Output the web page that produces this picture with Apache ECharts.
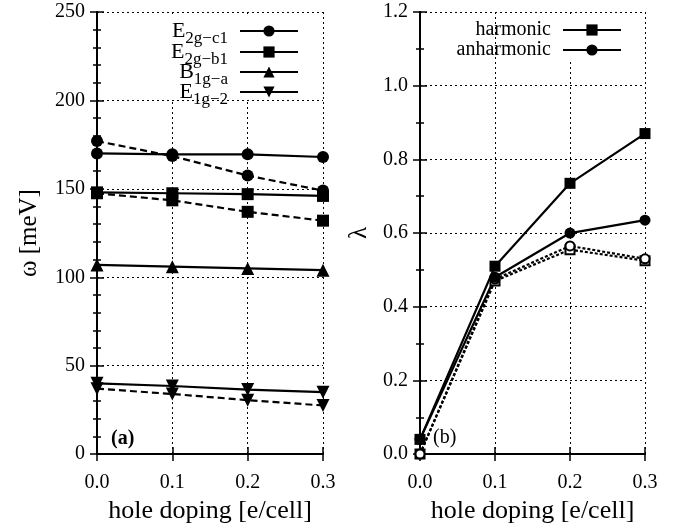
<!DOCTYPE html>
<html>
<head>
<meta charset="utf-8">
<script src="https://cdn.jsdelivr.net/npm/echarts@6/dist/echarts.min.js"></script>
<style>
  html, body { margin: 0; padding: 0; background: #fff; }
  #chart { width: 685px; height: 529px; }
</style>
</head>
<body>
<div id="chart"></div>
<script>
// hole doping values (x)
const dopings = [0.0, 0.1, 0.2, 0.3]
const xTicks = ['0.0', '0.1', '0.2', '0.3']

// panel (a): phonon frequencies, solid = harmonic, dashed = anharmonic
const e2gC1Solid = [170, 169.5, 169.5, 168]
const e2gC1Dashed = [177, 168.5, 157.5, 149]
const e2gB1Solid = [148, 147.5, 147, 146]
const e2gB1Dashed = [147.5, 143.5, 137, 132]
const b1gSolid = [107, 106, 105, 104]
const e1gSolid = [40, 38.5, 36.5, 35]
const e1gDashed = [37, 34, 30.5, 27.5]

// panel (b): coupling constant lambda
const lamHarm = [0.04, 0.51, 0.735, 0.87]
const lamAnh = [0.04, 0.48, 0.60, 0.635]
const lamHarmDashed = [0.0, 0.47, 0.555, 0.525]
const lamAnhDashed = [0.0, 0.475, 0.565, 0.53]

const FONT = '"Liberation Serif", "DejaVu Serif", serif'
const pairs = (ys) => dopings.map((x, i) => [x, ys[i]])

const chart = echarts.init(document.getElementById('chart'))

const gridLine = { show: true, lineStyle: { color: '#000', type: [2, 3], width: 1 } }
const labelStyle = { color: '#000', fontFamily: FONT, fontSize: 20 }

// x axes: bottom with labels, top mirror with ticks only
const xAxisPair = (gridIndex) => [
  {
    type: 'value', gridIndex, position: 'bottom', min: 0, max: 0.3, interval: 0.1,
    axisLine: { lineStyle: { color: '#000', width: 2 } },
    axisTick: { inside: true, length: 7, lineStyle: { width: 1.5 } },
    axisLabel: { ...labelStyle, margin: 19, formatter: (v) => xTicks[Math.round(v * 10)] },
    splitLine: gridLine,
    name: 'hole doping [e/cell]', nameLocation: 'middle', nameGap: 39,
    nameTextStyle: { color: '#000', fontFamily: FONT, fontSize: 26 }
  },
  {
    type: 'value', gridIndex, position: 'top', min: 0, max: 0.3, interval: 0.1,
    axisLine: { lineStyle: { color: '#000', width: 2 } },
    axisTick: { inside: true, length: 7, lineStyle: { width: 1.5 } },
    axisLabel: { show: false },
    splitLine: { show: false }
  }
]

const yAxisPair = (gridIndex, max, interval, minorSplit, name, nameGap, fmt) => [
  {
    type: 'value', gridIndex, position: 'left', min: 0, max, interval,
    axisLine: { show: true, lineStyle: { color: '#000', width: 2 } },
    axisTick: { show: true, inside: true, length: 7, lineStyle: { width: 1.5 } },
    minorTick: { show: true, splitNumber: minorSplit, length: 4, lineStyle: { color: '#000', width: 1.5 } },
    axisLabel: { ...labelStyle, margin: 12, formatter: fmt },
    splitLine: gridLine,
    name, nameLocation: 'middle', nameGap, nameRotate: 90,
    nameTextStyle: { color: '#000', fontFamily: FONT, fontSize: 25 }
  },
  {
    type: 'value', gridIndex, position: 'right', min: 0, max, interval,
    axisLine: { show: true, lineStyle: { color: '#000', width: 2 } },
    axisTick: { show: true, inside: true, length: 7, lineStyle: { width: 1.5 } },
    minorTick: { show: true, splitNumber: minorSplit, length: 4, lineStyle: { color: '#000', width: 1.5 } },
    axisLabel: { show: false },
    splitLine: { show: false }
  }
]

const lineSeries = (name, ys, xi, yi, symbol, size, dashed, extra) => ({
  name, type: 'line', xAxisIndex: xi, yAxisIndex: yi,
  data: pairs(ys),
  symbol, symbolSize: size,
  clip: false,
  lineStyle: { color: '#000', width: 2.2, type: dashed ? dashed : 'solid' },
  itemStyle: { color: '#000', borderColor: '#000', borderWidth: symbol.startsWith('empty') ? 2 : 0 },
  emphasis: { disabled: true },
  z: 3,
  ...extra
})

// rich text for legend names with subscripts
const richSub = {
  m: { fontFamily: FONT, fontSize: 22, color: '#000', lineHeight: 22, verticalAlign: 'top' },
  s: { fontFamily: FONT, fontSize: 17, color: '#000', lineHeight: 17, verticalAlign: 'top', padding: [10, 7, 0, 0] }
}
const subName = {
  'E2g-c1': '{m|E}{s|2g−c1}',
  'E2g-b1': '{m|E}{s|2g−b1}',
  'B1g-a': '{m|B}{s|1g−a}',
  'E1g-2': '{m|E}{s|1g−2}'
}
const leftLegend = (name, top) => ({
  data: [name], orient: 'vertical', right: 386, top, align: 'right',
  itemWidth: 58, itemHeight: 14, padding: 0, selectedMode: false,
  formatter: (n) => subName[n],
  textStyle: { rich: richSub }
})
const rightLegend = (name, top) => ({
  data: [name], orient: 'vertical', right: 63, top, align: 'right',
  itemWidth: 58, itemHeight: 14, padding: 0, selectedMode: false,
  textStyle: { color: '#000', fontFamily: FONT, fontSize: 20, padding: [0, 7, 0, 0] }
})

const option = {
  backgroundColor: '#fff',
  animation: false,
  grid: [
    { left: 97, right: 362, top: 12, bottom: 70 },
    { left: 420, right: 40, top: 12, bottom: 71 }
  ],
  xAxis: [...xAxisPair(0), ...xAxisPair(1)],
  yAxis: [
    ...yAxisPair(0, 250, 50, 5, 'ω [meV]', 55, (v) => String(v)),
    ...yAxisPair(1, 1.2, 0.2, 2, 'λ', 48, (v) => v.toFixed(1))
  ],
  legend: [
    leftLegend('E2g-c1', 20),
    leftLegend('E2g-b1', 41),
    leftLegend('B1g-a', 61),
    leftLegend('E1g-2', 81),
    rightLegend('harmonic', 20),
    rightLegend('anharmonic', 40)
  ],
  graphic: [
    // key boxes hide the grid lines behind the legends
    { type: 'rect', shape: { x: 118, y: 14, width: 190, height: 86 }, style: { fill: '#fff' }, z: 1 },
    { type: 'rect', shape: { x: 505, y: 14, width: 136, height: 46 }, style: { fill: '#fff' }, z: 1 },
    { type: 'text', left: 111, top: 429, style: { text: '(a)', fontFamily: FONT, fontSize: 20, fontWeight: 'bold', fill: '#000' }, z: 5 },
    { type: 'text', left: 433, top: 428, style: { text: '(b)', fontFamily: FONT, fontSize: 20, fill: '#000' }, z: 5 }
  ],
  series: [
    lineSeries('E2g-c1', e2gC1Solid, 0, 0, 'circle', 12),
    lineSeries('E2g-c1 anh', e2gC1Dashed, 0, 0, 'circle', 12, [7, 4]),
    lineSeries('E2g-b1', e2gB1Solid, 0, 0, 'rect', 12),
    lineSeries('E2g-b1 anh', e2gB1Dashed, 0, 0, 'rect', 12, [7, 4]),
    lineSeries('B1g-a', b1gSolid, 0, 0, 'triangle', 13),
    lineSeries('E1g-2', e1gSolid, 0, 0, 'triangle', 13, null, { symbolRotate: 180 }),
    lineSeries('E1g-2 anh', e1gDashed, 0, 0, 'triangle', 13, [7, 4], { symbolRotate: 180 }),

    lineSeries('harmonic dashed', lamHarmDashed, 2, 2, 'emptyRect', 9, [3, 2]),
    lineSeries('anharmonic dashed', lamAnhDashed, 2, 2, 'emptyCircle', 9, [3, 2]),
    lineSeries('anharmonic', lamAnh, 2, 2, 'circle', 11),
    lineSeries('harmonic', lamHarm, 2, 2, 'rect', 11)
  ]
}

chart.setOption(option)
</script>
</body>
</html>
